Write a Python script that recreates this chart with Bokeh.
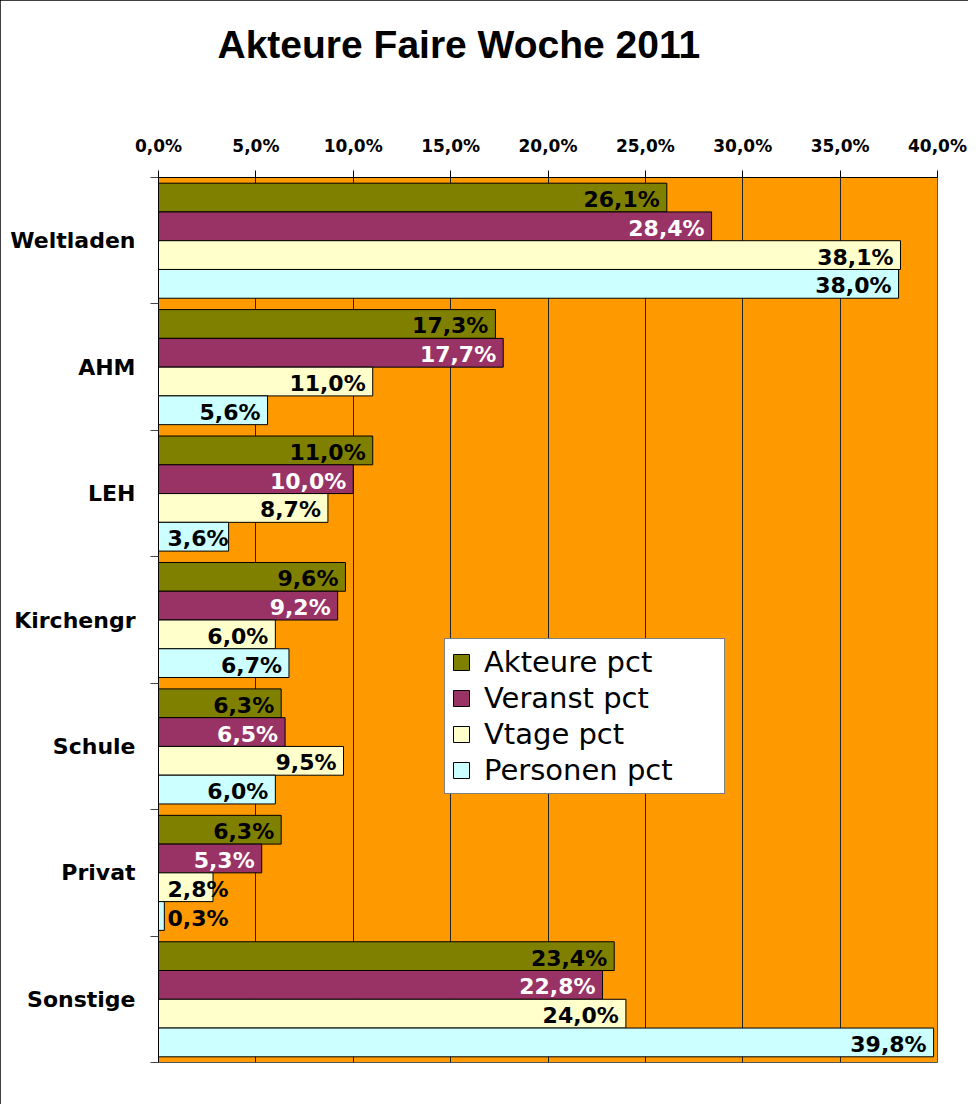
from bokeh.plotting import figure
from bokeh.models import Range1d, FixedTicker, ColumnDataSource, Legend, LegendItem, Title
from bokeh.core.properties import value
from bokeh.embed import file_html
from bokeh.resources import INLINE

title_text = "Akteure Faire Woche 2011"
categories = ["Weltladen", "AHM", "LEH", "Kirchengr", "Schule", "Privat", "Sonstige"]
series_names = ["Akteure pct", "Veranst pct", "Vtage pct", "Personen pct"]
akteure = [26.1, 17.3, 11.0, 9.6, 6.3, 6.3, 23.4]
veranst = [28.4, 17.7, 10.0, 9.2, 6.5, 5.3, 22.8]
vtage = [38.1, 11.0, 8.7, 6.0, 9.5, 2.8, 24.0]
personen = [38.0, 5.6, 3.6, 6.7, 6.0, 0.3, 39.8]
x_ticks = [0, 5, 10, 15, 20, 25, 30, 35, 40]
x_tick_labels = ["0,0%", "5,0%", "10,0%", "15,0%", "20,0%", "25,0%", "30,0%", "35,0%", "40,0%"]

series = [akteure, veranst, vtage, personen]
colors = ["#808000", "#993366", "#FFFFCC", "#CCFFFF"]
label_colors = ["black", "white", "black", "black"]
bar_h = 0.2275

p = figure(width=968, height=1104, x_range=Range1d(0, 40), y_range=Range1d(len(categories), 0),
           x_axis_location="above", output_backend="svg", toolbar_location=None,
           min_border_left=158, min_border_right=31, min_border_top=177, min_border_bottom=42)
p.styles = {"outline": "1px solid black", "outline-offset": "-1px"}

# blank spacer between the axis labels and the title
p.add_layout(Title(text=" ", standoff=59, text_font_size="1px"), "above")

p.title.text = title_text
p.title.text_font = "Liberation Sans"
p.title.text_font_style = "bold"
p.title.text_font_size = "39px"
p.title.text_color = "black"
p.title.align = "left"
p.title.offset = 59
p.title.standoff = 10

p.background_fill_color = "#FF9900"
p.border_fill_color = "white"
p.outline_line_color = "#555555"
p.outline_line_width = 1

p.xaxis.ticker = FixedTicker(ticks=x_ticks, minor_ticks=[])
p.xaxis.major_label_overrides = {t: l for t, l in zip(x_ticks, x_tick_labels)}
p.xaxis.major_tick_out = 7
p.xaxis.major_tick_in = 0
p.xaxis.minor_tick_out = 0
p.xaxis.minor_tick_in = 0
p.xaxis.major_label_standoff = 15
p.xaxis.major_label_text_font = "DejaVu Sans"
p.xaxis.major_label_text_font_style = "bold"
p.xaxis.major_label_text_font_size = "17px"
p.xaxis.major_label_text_color = "black"
p.xaxis.axis_line_color = "black"
p.xaxis.major_tick_line_color = "black"

centers = [i + 0.5 for i in range(len(categories))]
p.yaxis.ticker = FixedTicker(ticks=centers, minor_ticks=list(range(len(categories) + 1)))
p.yaxis.major_label_overrides = {c: n for c, n in zip(centers, categories)}
p.yaxis.major_tick_out = 0
p.yaxis.major_tick_in = 0
p.yaxis.minor_tick_out = 8
p.yaxis.minor_tick_in = 0
p.yaxis.minor_tick_line_color = "#444444"
p.yaxis.major_label_standoff = 15
p.yaxis.major_label_text_font = "DejaVu Sans"
p.yaxis.major_label_text_font_style = "bold"
p.yaxis.major_label_text_font_size = "22px"
p.yaxis.major_label_text_color = "black"
p.yaxis.axis_line_color = "black"

p.xgrid.ticker = FixedTicker(ticks=x_ticks)
p.xgrid.grid_line_color = "#222222"
p.xgrid.grid_line_width = 1
p.ygrid.visible = False

items = []
for j, (vals, name, col, lcol) in enumerate(zip(series, series_names, colors, label_colors)):
    ys = [i + 0.5 + (j - 1.5) * bar_h for i in range(len(categories))]
    small = [v < 4.0 for v in vals]
    src = ColumnDataSource(dict(
        y=ys, v=vals,
        lx=[0 if s else v for s, v in zip(small, vals)],
        txt=[("%.1f%%" % v).replace(".", ",") for v in vals],
        align=["left" if s else "right" for s in small],
        xoff=[9 if s else -7 for s in small],
    ))
    r = p.hbar(y="y", left=0, right="v", height=bar_h, source=src,
               fill_color=col, line_color="black", line_width=1)
    p.text(x="lx", y="y", text="txt", source=src, text_align="align", x_offset="xoff",
           y_offset=2, text_baseline="middle", text_color=lcol,
           text_font=value("DejaVu Sans"), text_font_style="bold", text_font_size="22px")
    items.append(LegendItem(label=name, renderers=[r]))

legend = Legend(items=items, location=(286, 268))
legend.label_text_font = "DejaVu Sans"
legend.label_text_font_size = "29px"
legend.label_text_color = "black"
legend.label_standoff = 13
legend.glyph_width = 20
legend.glyph_height = 20
legend.label_height = 32
legend.label_width = 234
legend.spacing = 2
legend.padding = 6
legend.margin = 0
legend.border_line_color = "black"
legend.border_line_width = 1
legend.background_fill_color = "white"
legend.background_fill_alpha = 1
p.add_layout(legend, "center")

open("out.html", "w").write(file_html(p, INLINE))
